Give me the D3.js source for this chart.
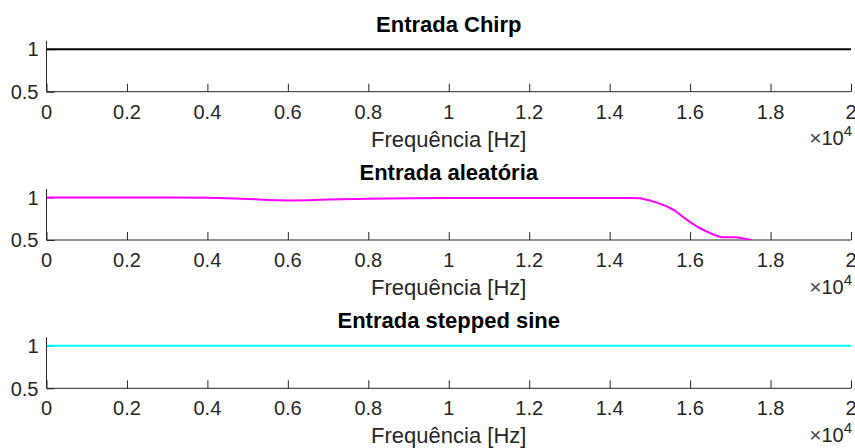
<!DOCTYPE html>
<html>
<head>
<meta charset="utf-8">
<script src="https://cdn.jsdelivr.net/npm/d3@7"></script>
<style>
  body { margin: 0; background: #fff; }
  svg { display: block; font-family: "Liberation Sans", Arial, Helvetica, sans-serif; }
</style>
</head>
<body>
<div id="chart"></div>
<script>
// frequency grid (Hz)
const freqChirp = [0, 2000, 4000, 6000, 8000, 10000, 12000, 14000, 16000, 18000, 20000]
const chirpVals = [1, 1, 1, 1, 1, 1, 1, 1, 1, 1, 1]

const freqRand = [0, 1000, 2000, 3000, 4000, 4500, 5000, 5500, 6000, 6500, 7000, 8000, 9000,
    10000, 11000, 12000, 13000, 14000, 14500, 14760, 15000, 15210, 15420, 15620, 15800, 16000,
    16200, 16410, 16600, 16780, 17150, 17530]
const randVals = [1.0, 1.0, 1.0, 0.999, 0.997, 0.992, 0.983, 0.972, 0.965, 0.968, 0.976, 0.985, 0.99,
    0.993, 0.995, 0.995, 0.995, 0.995, 0.994, 0.99, 0.965, 0.934, 0.895, 0.847, 0.78, 0.71,
    0.65, 0.6, 0.56, 0.533, 0.533, 0.5]

const freqStep = [0, 2000, 4000, 6000, 8000, 10000, 12000, 14000, 16000, 18000, 20000]
const stepVals = [1, 1, 1, 1, 1, 1, 1, 1, 1, 1, 1]

const xTicks = [0, 2000, 4000, 6000, 8000, 10000, 12000, 14000, 16000, 18000, 20000]
const yTicks = [0.5, 1]

const panels = [
    { title: 'Entrada Chirp', freq: freqChirp, vals: chirpVals, color: '#000000' },
    { title: 'Entrada aleatória', freq: freqRand, vals: randVals, color: '#ff00ff' },
    { title: 'Entrada stepped sine', freq: freqStep, vals: stepVals, color: '#00ffff' },
]

const width = 855, height = 448
const left = 46.5, right = 851
const panelTop = 40.7, panelH = 51, panelStep = 148.3
const axisColor = '#262626'

const svg = d3.select('#chart').append('svg')
    .attr('width', width)
    .attr('height', height)

const x = d3.scaleLinear().domain([0, 20000]).range([left, right])

panels.forEach((p, i) => {
    let top = panelTop + i * panelStep
    let bottom = top + panelH
    let y = d3.scaleLinear().domain([0.5, 1.1]).range([bottom, top])

    let g = svg.append('g').attr('class', 'panel' + i)

    g.append('clipPath').attr('id', 'clip' + i)
        .append('rect')
        .attr('x', left).attr('y', top)
        .attr('width', right - left).attr('height', panelH)

    // x axis, ticks pointing inward
    let xAxis = d3.axisTop(x).tickValues(xTicks).tickSize(8).tickFormat('')
    let gx = g.append('g')
        .attr('transform', `translate(0,${bottom})`)
        .call(xAxis)
    gx.select('.domain').attr('stroke', axisColor).attr('d', `M${left},0H${right}`)
    gx.selectAll('.tick line').attr('stroke', axisColor)

    g.selectAll('.xlab')
        .data(xTicks)
        .enter()
        .append('text')
        .attr('class', 'xlab')
        .attr('x', d => x(d))
        .attr('y', bottom + 27)
        .attr('text-anchor', 'middle')
        .attr('font-size', 20)
        .attr('fill', axisColor)
        .text(d => d3.format('')(+(d / 10000).toFixed(1)))

    // y axis
    let yAxis = d3.axisRight(y).tickValues(yTicks).tickSize(8).tickFormat('')
    let gy = g.append('g')
        .attr('transform', `translate(${left},0)`)
        .call(yAxis)
    gy.select('.domain').attr('stroke', axisColor).attr('d', `M0,${top}V${bottom}`)
    gy.selectAll('.tick line').attr('stroke', axisColor)

    g.selectAll('.ylab')
        .data(yTicks)
        .enter()
        .append('text')
        .attr('class', 'ylab')
        .attr('x', left - 8)
        .attr('y', d => y(d))
        .attr('dy', '0.36em')
        .attr('text-anchor', 'end')
        .attr('font-size', 20)
        .attr('fill', axisColor)
        .text(d => d)

    // data line
    let line = d3.line()
        .x((d, k) => x(p.freq[k]))
        .y(d => y(d))
    g.append('path')
        .datum(p.vals)
        .attr('clip-path', `url(#clip${i})`)
        .attr('d', line)
        .attr('fill', 'none')
        .attr('stroke', p.color)
        .attr('stroke-width', 2)
        .attr('stroke-linejoin', 'round')

    // title
    g.append('text')
        .attr('x', (left + right) / 2)
        .attr('y', top - 9)
        .attr('text-anchor', 'middle')
        .attr('font-size', 22)
        .attr('font-weight', 'bold')
        .attr('fill', '#000')
        .text(p.title)

    // x label
    g.append('text')
        .attr('x', (left + right) / 2)
        .attr('y', bottom + 55)
        .attr('text-anchor', 'middle')
        .attr('font-size', 22)
        .attr('fill', axisColor)
        .text('Frequência [Hz]')

    // exponent
    let ex = g.append('text')
        .attr('x', right + 1)
        .attr('y', bottom + 53.5)
        .attr('text-anchor', 'end')
        .attr('font-size', 20)
        .attr('fill', axisColor)
    ex.append('tspan').attr('font-size', 21).attr('fill', '#444').text('×')
    ex.append('tspan').text('10')
    ex.append('tspan').attr('dy', -9).attr('font-size', 15).text('4')
})
</script>
</body>
</html>
